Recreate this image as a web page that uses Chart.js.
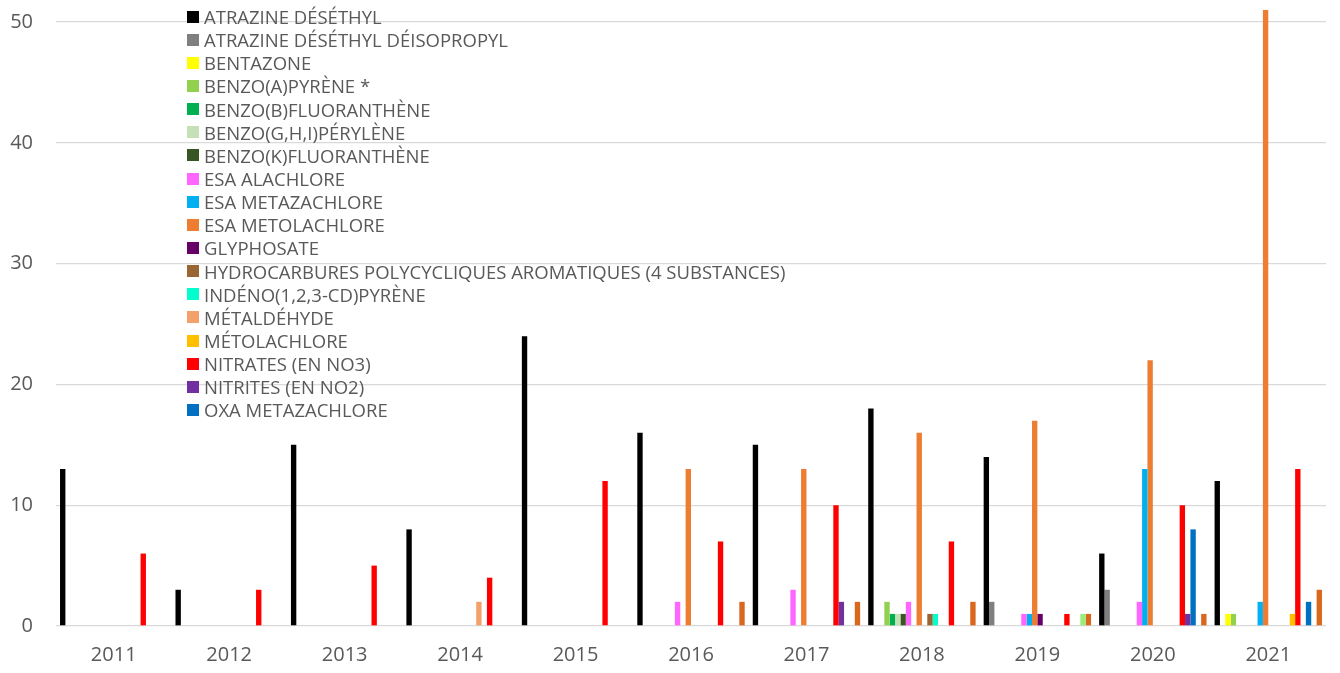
<!DOCTYPE html>
<html>
<head>
<meta charset="utf-8">
<script src="https://cdn.jsdelivr.net/npm/chart.js@4.4.1/dist/chart.umd.min.js"></script>
<style>
  html, body { margin: 0; padding: 0; background: #ffffff; }
  #wrap { position: relative; width: 1340px; height: 673px; overflow: hidden; background: #fff; }
  #c { position: absolute; left: 0; top: 0; }
  #legend { position: absolute; left: 187px; top: 5px; font-family: "Open Sans", sans-serif; font-size: 18.5px; color: #595959; }
  #legend .row { height: 23.15px; line-height: 23.15px; white-space: nowrap; display: flex; align-items: center; }
  #legend .box { width: 12px; height: 12px; margin-right: 5px; flex: none; }
</style>
</head>
<body>
<div id="wrap">
  <canvas id="c" width="1340" height="673"></canvas>
  <div id="legend"></div>
</div>
<script>
// ---- Data ----
const categories = ["2011","2012","2013","2014","2015","2016","2017","2018","2019","2020","2021"];
const yTicks = [0, 10, 20, 30, 40, 50];

const atrazineDesethyl          = [13, 3, 15, 8, 24, 16, 15, 18, 14, 6, 12];
const atrazineDesethylDeisoprop = [null, null, null, null, null, null, null, null, 2, 3, null];
const bentazone                 = [null, null, null, null, null, null, null, null, null, null, 1];
const benzoAPyrene              = [null, null, null, null, null, null, null, 2, null, null, 1];
const benzoBFluoranthene        = [null, null, null, null, null, null, null, 1, null, null, null];
const benzoGHIPerylene          = [null, null, null, null, null, null, null, 1, null, null, null];
const benzoKFluoranthene        = [null, null, null, null, null, null, null, 1, null, null, null];
const esaAlachlore              = [null, null, null, null, null, 2, 3, 2, 1, 2, null];
const esaMetazachlore           = [null, null, null, null, null, null, null, null, 1, 13, 2];
const esaMetolachlore           = [null, null, null, null, null, 13, 13, 16, 17, 22, 51];
const glyphosate                = [null, null, null, null, null, null, null, null, 1, null, null];
const hydrocarbures             = [null, null, null, null, null, null, null, 1, null, null, null];
const indenoPyrene              = [null, null, null, null, null, null, null, 1, null, null, null];
const metaldehyde               = [null, null, null, 2, null, null, null, null, null, null, null];
const metolachlore              = [null, null, null, null, null, null, null, null, null, null, 1];
const nitrates                  = [6, 3, 5, 4, 12, 7, 10, 7, 1, 10, 13];
const nitrites                  = [null, null, null, null, null, null, 2, null, null, 1, null];
const oxaMetazachlore           = [null, null, null, null, null, null, null, null, null, 8, 2];
const serie19                   = [null, null, null, null, null, null, null, null, 1, null, null];
const serie20                   = [null, null, null, null, null, 2, 2, 2, 1, 1, 3];

const seriesNames = [
  "ATRAZINE DÉSÉTHYL",
  "ATRAZINE DÉSÉTHYL DÉISOPROPYL",
  "BENTAZONE",
  "BENZO(A)PYRÈNE *",
  "BENZO(B)FLUORANTHÈNE",
  "BENZO(G,H,I)PÉRYLÈNE",
  "BENZO(K)FLUORANTHÈNE",
  "ESA ALACHLORE",
  "ESA METAZACHLORE",
  "ESA METOLACHLORE",
  "GLYPHOSATE",
  "HYDROCARBURES POLYCYCLIQUES AROMATIQUES (4 SUBSTANCES)",
  "INDÉNO(1,2,3-CD)PYRÈNE",
  "MÉTALDÉHYDE",
  "MÉTOLACHLORE",
  "NITRATES (EN NO3)",
  "NITRITES (EN NO2)",
  "OXA METAZACHLORE",
  "",
  ""
];
const seriesValues = [
  atrazineDesethyl, atrazineDesethylDeisoprop, bentazone, benzoAPyrene, benzoBFluoranthene,
  benzoGHIPerylene, benzoKFluoranthene, esaAlachlore, esaMetazachlore, esaMetolachlore,
  glyphosate, hydrocarbures, indenoPyrene, metaldehyde, metolachlore, nitrates, nitrites,
  oxaMetazachlore, serie19, serie20
];
const seriesColors = [
  "#000000", "#7F7F7F", "#FFFF00", "#92D050", "#00B050",
  "#C5E0B4", "#375623", "#FF66FF", "#00B0F0", "#ED7D31",
  "#660066", "#996633", "#00FFCC", "#F4A06A", "#FFC000",
  "#FF0000", "#7030A0", "#0070C0", "#99EE77", "#D9671E"
];
const legendCount = 18;

// ---- Chart ----
const datasets = seriesValues.map((vals, i) => ({
  label: seriesNames[i],
  data: vals,
  backgroundColor: seriesColors[i],
  borderWidth: 0,
  categoryPercentage: 20 / 21.5,
  barPercentage: 1.0
}));

const FONT = "'Open Sans', sans-serif";

new Chart(document.getElementById('c'), {
  type: 'bar',
  data: { labels: categories, datasets },
  options: {
    responsive: false,
    animation: false,
    devicePixelRatio: 1,
    layout: { padding: { top: 4, right: 14, left: 0, bottom: 0 } },
    plugins: {
      legend: { display: false },
      tooltip: { enabled: false }
    },
    scales: {
      x: {
        grid: { display: false, drawTicks: false },
        border: { display: false },
        ticks: { color: '#595959', font: { family: FONT, size: 20 }, padding: 17, maxRotation: 0 },
        afterFit: (s) => { s.height = 47; s.paddingLeft = 0; s.paddingRight = 0; }
      },
      y: {
        min: 0,
        max: 51.5,
        afterBuildTicks: (s) => { s.ticks = yTicks.map(v => ({ value: v })); },
        grid: { color: '#D9D9D9', lineWidth: 1.3, drawTicks: false },
        border: { display: false },
        ticks: { color: '#595959', font: { family: FONT, size: 20 }, padding: 23 },
        afterFit: (s) => { s.width = 56; s.paddingTop = 0; s.paddingBottom = 0; }
      }
    }
  }
});

// ---- Legend (HTML, real text) ----
const legend = document.getElementById('legend');
for (let i = 0; i < legendCount; i++) {
  const row = document.createElement('div');
  row.className = 'row';
  const box = document.createElement('span');
  box.className = 'box';
  box.style.background = seriesColors[i];
  const txt = document.createElement('span');
  txt.textContent = seriesNames[i];
  row.appendChild(box);
  row.appendChild(txt);
  legend.appendChild(row);
}
</script>
</body>
</html>
